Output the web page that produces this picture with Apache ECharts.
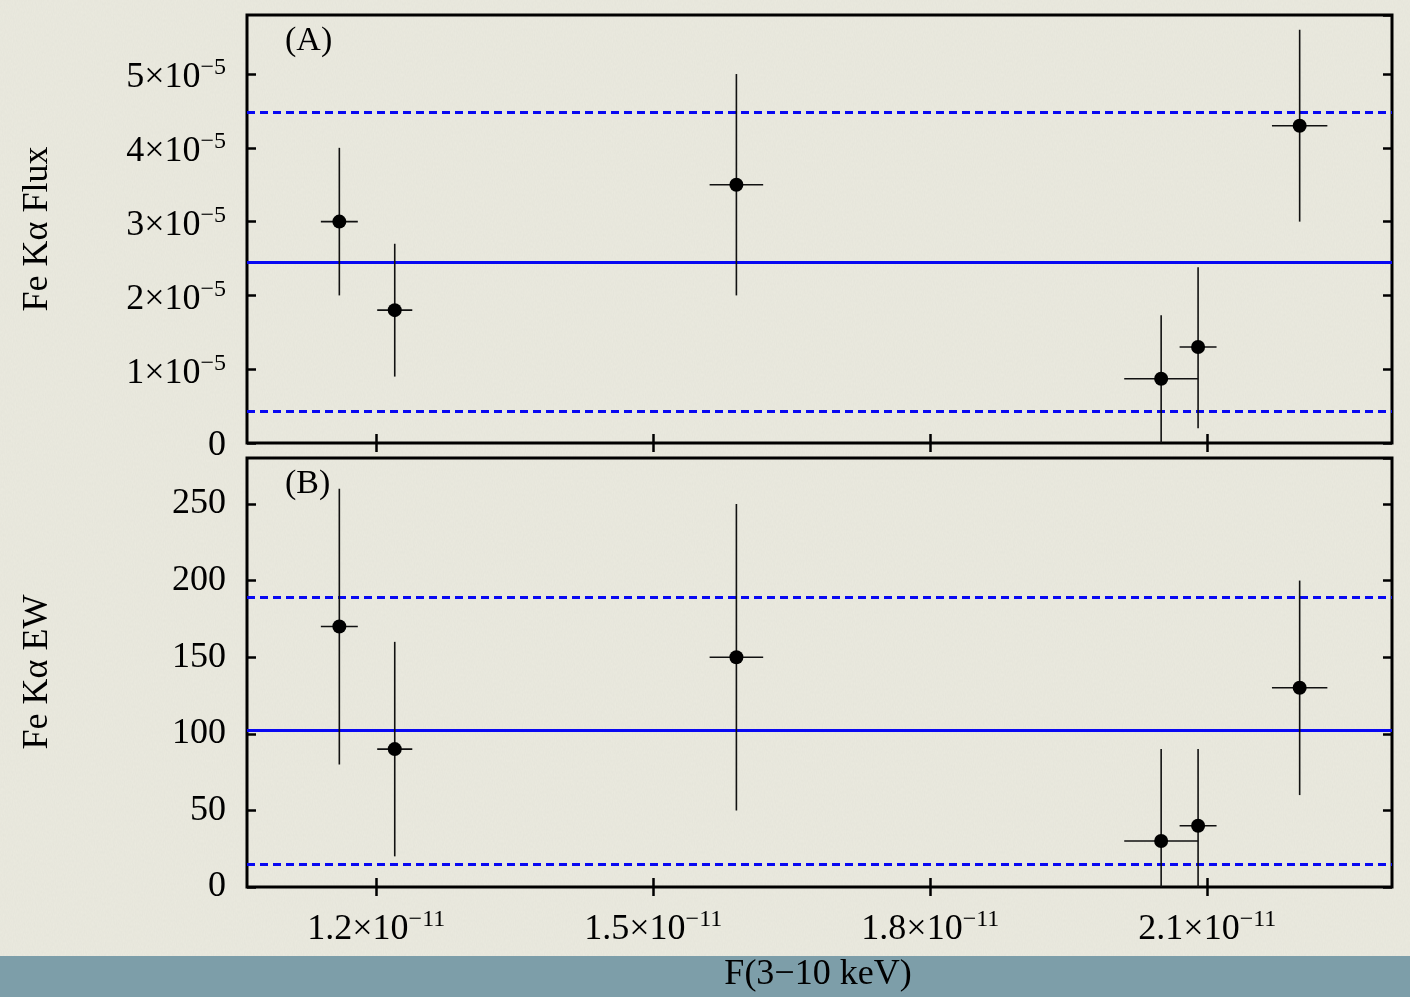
<!DOCTYPE html>
<html>
<head>
<meta charset="utf-8">
<script src="https://cdn.jsdelivr.net/npm/echarts@6/dist/echarts.min.js"></script>
<style>
  html, body { margin: 0; padding: 0; width: 1410px; height: 997px; overflow: hidden; background: #ebeadf; }
  #paper { position: absolute; left: 0; top: 0; width: 1410px; height: 997px; opacity: 0.3;
    background-image: url("data:image/svg+xml;utf8,<svg xmlns='http://www.w3.org/2000/svg' width='300' height='300'><filter id='n'><feTurbulence type='fractalNoise' baseFrequency='0.9 0.35' numOctaves='2' seed='3'/><feColorMatrix values='0 0 0 0 0.55  0 0 0 0 0.56  0 0 0 0 0.52  0 0 0 0.55 0'/></filter><rect width='300' height='300' filter='url(%23n)'/></svg>"); }
  #band { position: absolute; left: 0; top: 956px; width: 1410px; height: 41px; background: #7d9ea9; }
  #chart { position: absolute; left: 0; top: 0; width: 1410px; height: 997px; }
</style>
</head>
<body>
<div id="paper"></div>
<div id="band"></div>
<div id="chart"></div>
<script>
// Continuum flux F(3-10 keV), in units of 1e-11
const contFlux = [1.16, 1.22, 1.59, 2.05, 2.09, 2.20];
const contFluxErr = [0.02, 0.019, 0.029, 0.04, 0.02, 0.03];
// Fe Kα line flux, in units of 1e-5
const lineFlux = [3.0, 1.8, 3.5, 0.87, 1.3, 4.3];
const lineFluxLo = [2.0, 0.9, 2.0, 0.0, 0.2, 3.0];
const lineFluxHi = [4.0, 2.7, 5.0, 1.73, 2.38, 5.6];
// Fe Kα equivalent width
const lineEW = [170, 90, 150, 30, 40, 130];
const lineEWLo = [80, 20, 50, 0, 0, 60];
const lineEWHi = [260, 160, 250, 90, 90, 200];
// mean level, lower and upper bound of the band
const fluxLevels = [2.45, 0.43, 4.48];
const ewLevels = [102, 15, 189];
// tick positions on the shared x axis
const xTickValues = [1.2, 1.5, 1.8, 2.1];
const panelTags = ['(A)', '(B)'];
const axisTitles = ['Fe Kα Flux', 'Fe Kα EW', 'F(3−10 keV)'];

const SERIF = '"Liberation Serif", "Times New Roman", serif';
const X_MIN = 1.06, X_MAX = 2.30;

const rich = {
  b: { fontFamily: SERIF, fontSize: 36, lineHeight: 36, padding: [8, 0, 0, 0], color: '#000' },
  s: { fontFamily: SERIF, fontSize: 24, lineHeight: 24, verticalAlign: 'top', color: '#000' },
  z: { fontFamily: SERIF, fontSize: 36, lineHeight: 36, padding: [5, 0, 0, 0], color: '#000' },
  p: { fontFamily: SERIF, fontSize: 36, lineHeight: 36, color: '#000' }
};
function sci(mant, exp) { return '{b|' + mant + '×10}{s|−' + exp + '}'; }

const tickStyle = { show: true, inside: true, length: 9, lineStyle: { color: '#000', width: 2.5 } };

function xAxes(gridIndex, withLabels) {
  const base = {
    type: 'value', gridIndex, min: X_MIN, max: X_MAX,
    axisLine: { show: false }, splitLine: { show: false }
  };
  return [
    Object.assign({}, base, {
      position: 'bottom',
      axisTick: Object.assign({ customValues: xTickValues }, tickStyle),
      axisLabel: withLabels ? {
        show: true, margin: 21, customValues: xTickValues, rich,
        formatter: v => sci(v.toFixed(1), 11)
      } : { show: false }
    }),
    Object.assign({}, base, {
      position: 'top',
      axisTick: Object.assign({ customValues: xTickValues }, tickStyle),
      axisLabel: { show: false }
    })
  ];
}

function yAxes(gridIndex, max, interval, fmt) {
  const base = {
    type: 'value', gridIndex, min: 0, max, interval,
    axisLine: { show: false }, splitLine: { show: false }, axisTick: tickStyle
  };
  return [
    Object.assign({}, base, {
      position: 'left',
      axisLabel: { show: true, margin: 21, rich, showMaxLabel: false, formatter: fmt }
    }),
    Object.assign({}, base, { position: 'right', axisLabel: { show: false } })
  ];
}

function errorBars(values, lo, hi, axisIdx) {
  const data = contFlux.map((x, i) => [x, values[i], x - contFluxErr[i], x + contFluxErr[i], lo[i], hi[i]]);
  return {
    type: 'custom', xAxisIndex: axisIdx, yAxisIndex: axisIdx, z: 3,
    data, encode: { x: 0, y: 1 }, silent: true,
    renderItem(params, api) {
      const cs = params.coordSys;
      const clampY = y => Math.max(cs.y, Math.min(cs.y + cs.height, y));
      const clampX = x => Math.max(cs.x, Math.min(cs.x + cs.width, x));
      const c = api.coord([api.value(0), api.value(1)]);
      const xl = api.coord([api.value(2), api.value(1)]);
      const xh = api.coord([api.value(3), api.value(1)]);
      const yl = api.coord([api.value(0), api.value(4)]);
      const yh = api.coord([api.value(0), api.value(5)]);
      const st = { stroke: '#111', lineWidth: 1.6 };
      return {
        type: 'group',
        children: [
          { type: 'line', shape: { x1: c[0], y1: clampY(yl[1]), x2: c[0], y2: clampY(yh[1]) }, style: st },
          { type: 'line', shape: { x1: clampX(xl[0]), y1: c[1], x2: clampX(xh[0]), y2: c[1] }, style: st }
        ]
      };
    }
  };
}

function points(values, axisIdx, levels) {
  const solid = { color: '#0808f2', width: 3, type: 'solid', opacity: 1 };
  const dashed = { color: '#0808f2', width: 3, type: [8, 5], opacity: 1 };
  return {
    type: 'scatter', xAxisIndex: axisIdx, yAxisIndex: axisIdx, z: 4,
    symbol: 'circle', symbolSize: 14, itemStyle: { color: '#000', opacity: 1 },
    data: contFlux.map((x, i) => [x, values[i]]),
    markLine: {
      silent: true, symbol: ['none', 'none'], label: { show: false }, z: 2,
      data: [
        { yAxis: levels[0], lineStyle: solid },
        { yAxis: levels[1], lineStyle: dashed },
        { yAxis: levels[2], lineStyle: dashed }
      ]
    }
  };
}

const gridBox = { show: true, borderColor: '#000', borderWidth: 3, backgroundColor: 'transparent' };
const titleStyle = { fontFamily: SERIF, fontSize: 36, fill: '#000', align: 'center', verticalAlign: 'middle' };
const tagStyle = { fontFamily: SERIF, fontSize: 34, fill: '#000', align: 'left', verticalAlign: 'middle' };

const option = {
  animation: false,
  backgroundColor: 'transparent',
  grid: [
    Object.assign({ left: 247, top: 15, width: 1145, height: 428 }, gridBox),
    Object.assign({ left: 247, top: 458, width: 1145, height: 429 }, gridBox)
  ],
  // axes 0/1 belong to the upper panel, 2/3 to the lower one
  xAxis: [...xAxes(0, false), ...xAxes(1, true)],
  yAxis: [
    ...yAxes(0, 5.8, 1, v => (v === 0 ? '{z|0}' : (Number.isInteger(v) ? sci(v, 5) : ''))),
    ...yAxes(1, 280, 50, v => (v % 50 === 0 ? '{p|' + v + '}' : ''))
  ],
  series: [
    errorBars(lineFlux, lineFluxLo, lineFluxHi, 0),
    points(lineFlux, 0, fluxLevels),
    errorBars(lineEW, lineEWLo, lineEWHi, 2),
    points(lineEW, 2, ewLevels)
  ],
  graphic: [
    { type: 'text', x: 285, y: 41, style: Object.assign({ text: panelTags[0] }, tagStyle) },
    { type: 'text', x: 285, y: 484, style: Object.assign({ text: panelTags[1] }, tagStyle) },
    { type: 'text', x: 38, y: 229, rotation: Math.PI / 2, style: Object.assign({ text: axisTitles[0] }, titleStyle) },
    { type: 'text', x: 38, y: 672, rotation: Math.PI / 2, style: Object.assign({ text: axisTitles[1] }, titleStyle) },
    { type: 'text', x: 818, y: 975, style: Object.assign({ text: axisTitles[2] }, titleStyle) }
  ]
};

const chart = echarts.init(document.getElementById('chart'), null, { renderer: 'canvas' });
chart.setOption(option);
</script>
</body>
</html>
